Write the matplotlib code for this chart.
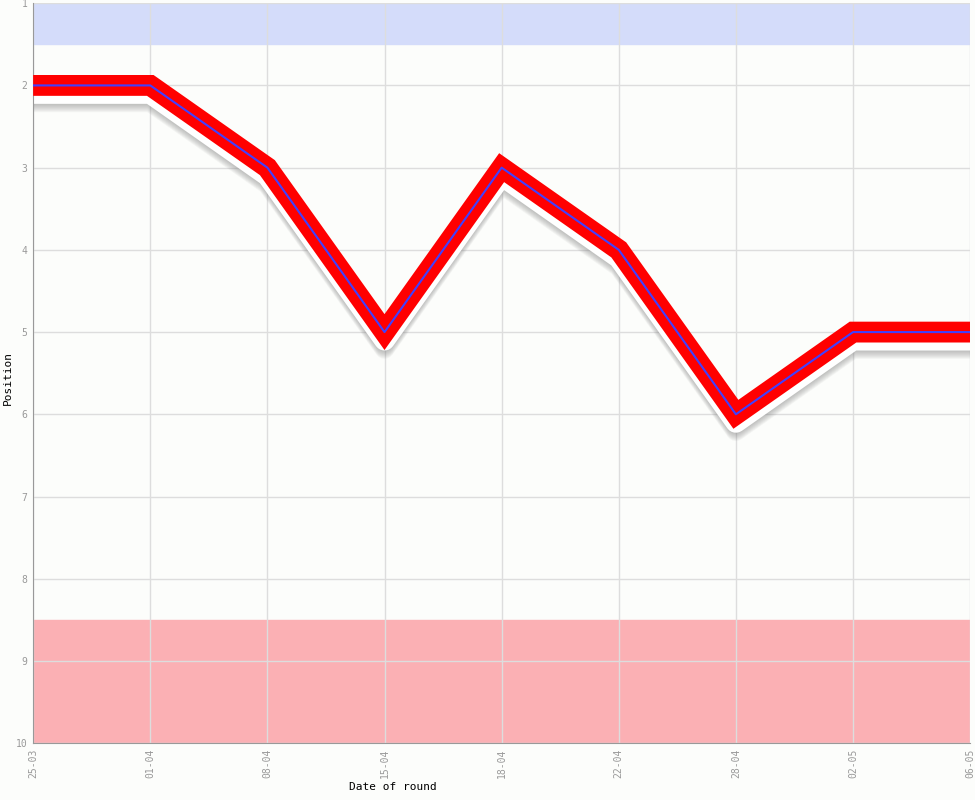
import matplotlib.pyplot as plt
import matplotlib.transforms as mtransforms

# round dates and league position
dates = ['25-03', '01-04', '08-04', '15-04', '18-04', '22-04', '28-04', '02-05', '06-05']
positions = [2, 2, 3, 5, 3, 4, 6, 5, 5]

fig = plt.figure(figsize=(9.75, 8), dpi=100, facecolor='#fcfdfb')
ax = fig.add_axes([0.034, 0.071, 0.961, 0.925])
ax.set_facecolor('#fcfdfb')

x = list(range(len(dates)))

# zones
ax.axhspan(1, 1.5, color='#d4dcfa', zorder=0)
ax.axhspan(8.5, 10, color='#fbb0b4', zorder=0)


def shifted(dy):
    return mtransforms.offset_copy(ax.transData, fig=fig, x=0, y=dy, units='dots')


# soft grey shadow under a white band
for k in range(8):
    ax.plot(x, positions, color='#808080', lw=14, alpha=0.07, transform=shifted(-10 - k),
            solid_capstyle='butt', solid_joinstyle='round', zorder=2)
ax.plot(x, positions, color='#ffffff', lw=15, transform=shifted(-8),
        solid_capstyle='butt', solid_joinstyle='round', zorder=2.5)

ax.plot(x, positions, color='#ff0000', lw=15, solid_joinstyle='miter', solid_capstyle='butt', zorder=3)
ax.plot(x, positions, color='#4040ff', lw=1.5, zorder=4)

ax.set_xlim(0, len(dates) - 1)
ax.set_ylim(10, 1)
ax.set_xticks(x)
ax.set_xticklabels(dates, rotation=90, fontsize=7, color='#999999', family='DejaVu Sans Mono')
ax.set_yticks(range(1, 11))
ax.set_yticklabels([str(i) for i in range(1, 11)], fontsize=7, color='#999999', family='DejaVu Sans Mono')
ax.tick_params(length=0, pad=4)

ax.grid(True, color='#dddddd', lw=1, zorder=1)
ax.set_axisbelow(True)
for s in ['top', 'right']:
    ax.spines[s].set_visible(False)
ax.spines['left'].set_color('#999999')
ax.spines['bottom'].set_color('#999999')

fig.text(393 / 975, 1 - 787 / 800, 'Date of round', fontsize=8, family='DejaVu Sans Mono',
         ha='center', va='center')
fig.text(8 / 975, 1 - 378 / 800, 'Position', fontsize=8, family='DejaVu Sans Mono',
         ha='center', va='center', rotation=90)

fig.savefig('out.png', dpi=100, facecolor=fig.get_facecolor())
